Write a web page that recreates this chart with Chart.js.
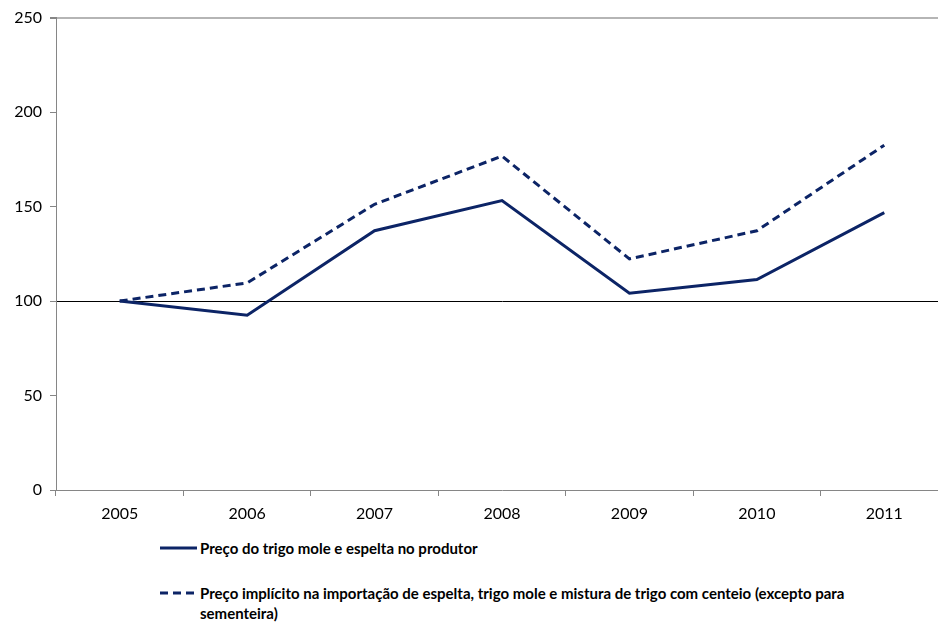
<!DOCTYPE html>
<html>
<head>
<meta charset="utf-8">
<script src="https://cdn.jsdelivr.net/npm/chart.js@4"></script>
<style>
  body{ margin:0; background:#fff; width:938px; height:628px; overflow:hidden; font-family:Lato, "Open Sans", sans-serif; }
  #wrap{ position:relative; width:948px; height:532px; }
  #legend{ position:absolute; left:160px; top:538px; width:740px; font-weight:bold; font-size:15px; color:#000; }
  .item{ display:flex; align-items:flex-start; line-height:20px; }
  .item + .item{ margin-top:25px; }
  .swatch{ flex:none; width:37px; height:20px; margin-right:3px; }
</style>
</head>
<body>
<div id="wrap"><canvas id="chart"></canvas></div>
<div id="legend"></div>
<script>
const years = ['2005','2006','2007','2008','2009','2010','2011'];
const producerPrice = [100, 92.5, 137.2, 153.2, 104.1, 111.4, 146.8];
const importPrice = [100, 109.6, 151.2, 176.7, 122.3, 137.2, 182.5];
const seriesNames = [
    'Preço do trigo mole e espelta no produtor',
    'Preço implícito na importação de espelta, trigo mole e mistura de trigo com centeio (excepto para sementeira)'
];
const yTicks = [0, 50, 100, 150, 200, 250];

const navy = '#0c2466';
const axisGray = '#868686';

const ctx = document.getElementById('chart').getContext('2d');
new Chart(ctx,{
    type:'line',
    data:{
        labels:years,
        datasets:[
            { label:seriesNames[0], data:producerPrice, borderColor:navy, borderWidth:3, pointRadius:0, tension:0 },
            { label:seriesNames[1], data:importPrice, borderColor:navy, borderWidth:3, borderDash:[8,5], pointRadius:0, tension:0 }
        ]
    },
    options:{
        responsive:true,
        maintainAspectRatio:false,
        animation:false,
        layout:{ padding:{ top:8, right:0, left:0, bottom:0 } },
        plugins:{ legend:{ display:false }, tooltip:{ enabled:false } },
        scales:{
            x:{
                offset:true,
                grid:{ offset:true, drawOnChartArea:false, tickLength:6, tickColor:axisGray },
                border:{ color:axisGray, width:1 },
                ticks:{ color:'#000', font:{ family:'Lato', size:16 }, padding:8, maxRotation:0 },
                afterFit:s=>{ s.height = 42; }
            },
            y:{
                min:0, max:250,
                afterBuildTicks:s=>{ s.ticks = yTicks.map(v=>({value:v})); },
                grid:{
                    color:c=> c.tick && c.tick.value===100 ? '#000' : (c.tick && c.tick.value===250 ? '#b5b5b5' : 'rgba(0,0,0,0)'),
                    lineWidth:c=> c.tick && c.tick.value===250 ? 2 : 1,
                    tickColor:axisGray, tickLength:6
                },
                border:{ color:axisGray, width:1 },
                ticks:{ color:'#000', font:{ family:'Lato', size:16 }, padding:8 },
                afterFit:s=>{ s.width = 56; }
            }
        }
    }
});

// html legend, so the long label can wrap
const legend = document.getElementById('legend');
seriesNames.forEach((name,i)=>{
    const dash = i===1 ? 'stroke-dasharray="8,5"' : '';
    legend.innerHTML += '<div class="item"><svg class="swatch"><line x1="0" y1="10" x2="37" y2="10" stroke="'+navy+'" stroke-width="3" '+dash+'/></svg><span>'+name+'</span></div>';
});
</script>
</body>
</html>
